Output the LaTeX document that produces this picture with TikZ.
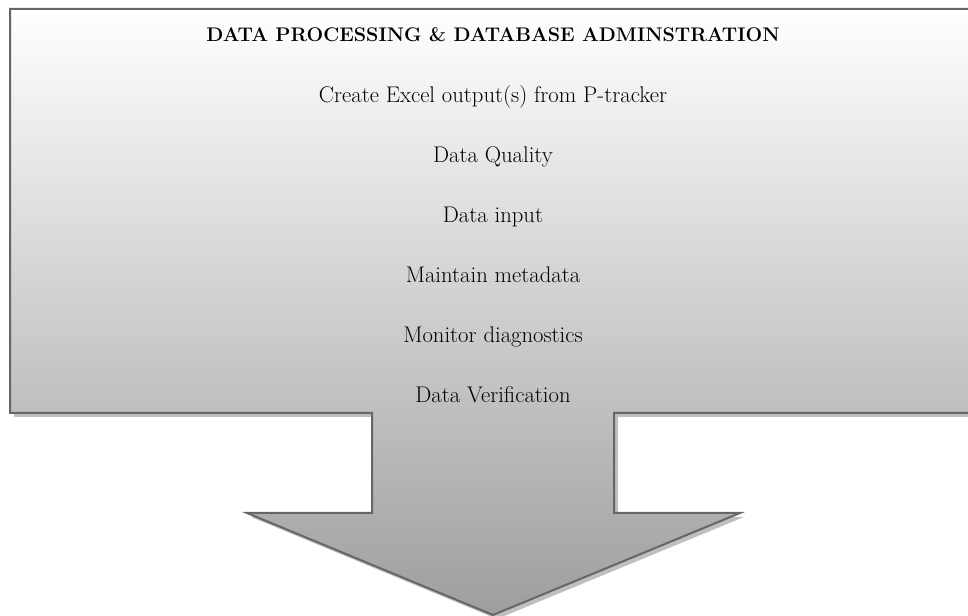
\documentclass[tikz,border=0pt]{standalone}
\usepackage{tikz}

\begin{document}
\begin{tikzpicture}[x=0.75pt, y=-0.75pt,
    arrowbody/.style={draw=black!60, line width=1.5pt, line join=miter,
                      top color=white, bottom color=black!38},
    arrowshadow/.style={fill=black!25},
    heading/.style={anchor=base, inner sep=0pt, font=\fontsize{14.8}{18}\selectfont\bfseries},
    task/.style={anchor=base, inner sep=0pt, font=\fontsize{17}{20}\selectfont}]
    \useasboundingbox (0,0) rectangle (968,616);
    \clip (0,0) rectangle (968,616);
    % shadow under the callout
    \fill [arrowshadow, shift={(4,4)}] (10,9) -- (990,9) -- (990,413) -- (614,413) -- (614,513) -- (740,513)
        -- (493,615) -- (247,513) -- (372,513) -- (372,413) -- (10,413) -- cycle;
    % the down arrow callout
    \draw [arrowbody] (10,9) -- (990,9) -- (990,413) -- (614,413) -- (614,513) -- (740,513)
        -- (493,615) -- (247,513) -- (372,513) -- (372,413) -- (10,413) -- cycle;
    \node [heading] (title) at (493,42) {DATA PROCESSING \& DATABASE ADMINSTRATION};
    \node [task] (excel) at (493,103) {Create Excel output(s) from P-tracker};
    \node [task] (quality) at (493,163) {Data Quality};
    \node [task] (input) at (493,223) {Data input};
    \node [task] (meta) at (493,283) {Maintain metadata};
    \node [task] (diag) at (493,343) {Monitor diagnostics};
    \node [task] (verify) at (493,403) {Data Verification};
\end{tikzpicture}
\end{document}
